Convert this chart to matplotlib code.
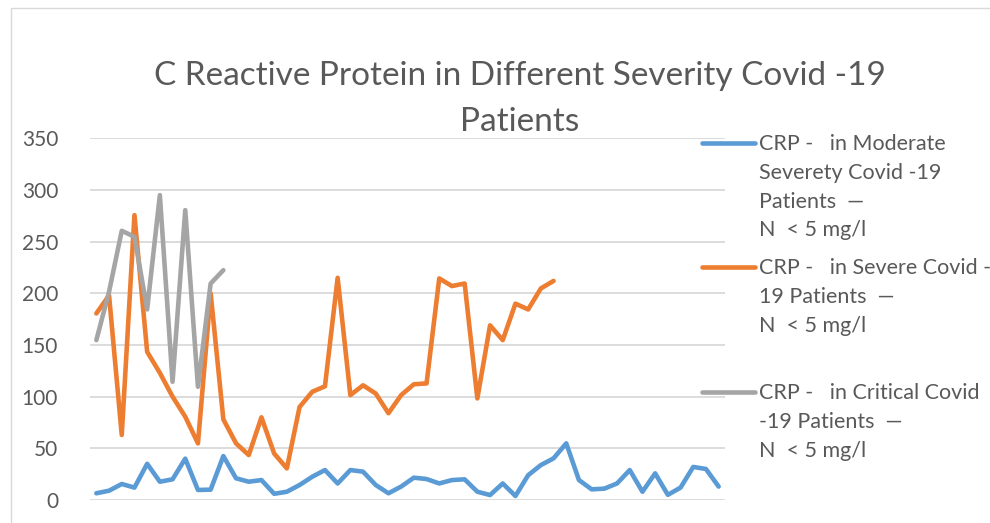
import numpy as np
import matplotlib
matplotlib.use("Agg")
import matplotlib.pyplot as plt
from matplotlib.lines import Line2D
from matplotlib.patches import Rectangle

plt.rcParams.update({
    "font.family": ["Lato", "DejaVu Sans"],
    "figure.facecolor": "white",
})

# values (mg/l), one list per severity group
crp_moderate = [6.5, 9, 15.5, 12, 35, 17.7, 20, 40, 9.7, 10,
                42.5, 21, 17.7, 19.3, 6, 8, 14.5, 22.5, 29, 16,
                29, 27.4, 14.5, 6.5, 13, 21.6, 20.3, 16, 19.3, 20,
                8, 4.8, 16, 3.9, 24, 33.8, 40.3, 54.8, 19.3, 10.3,
                11, 16, 29, 8, 25.8, 5, 12, 32, 30, 13]
crp_severe = [180.5, 198, 63, 275.6, 143.4, 123, 100, 80.6, 54.8, 200,
              78, 54.8, 43.5, 80, 45, 30.6, 90, 104.7, 110, 215,
              101.5, 111, 103, 84, 101.5, 112, 112.8, 214.4, 207, 209.5,
              98.3, 169, 154.7, 190, 184.4, 204.7, 212]
crp_critical = [154.7, 201.5, 260.5, 254.7, 184.4, 295, 114.4, 280.5, 109.6, 209.5,
                222.4]

series_labels = [
    "CRP -   in Moderate\nSeverety Covid -19\nPatients  \u2014\nN  < 5 mg/l",
    "CRP -   in Severe Covid -\n19 Patients  \u2014\nN  < 5 mg/l",
    "CRP -   in Critical Covid\n-19 Patients  \u2014\nN  < 5 mg/l",
]
series_colors = ["#5B9BD5", "#ED7D31", "#A5A5A5"]
y_ticks = [0, 50, 100, 150, 200, 250, 300, 350]
n_categories = 50

W, H = 990, 523
fig = plt.figure(figsize=(W / 100, H / 100), dpi=100)

# chart frame
fig.add_artist(Rectangle((11 / W, -0.2), 1.2, 1.2 - 8 / H, transform=fig.transFigure,
                         fill=False, edgecolor="#D9D9D9", linewidth=1.0))

ax = fig.add_axes([90 / W, (H - 500) / H, 635 / W, (500 - 138.3) / H])
ax.set_facecolor("none")

for vals, col in zip([crp_moderate, crp_severe, crp_critical], series_colors):
    ax.plot(np.arange(len(vals)), vals, color=col, linewidth=3.3,
            solid_capstyle="round", solid_joinstyle="round", zorder=3)

ax.set_xlim(-0.5, n_categories - 0.5)
ax.set_ylim(0, 350)
ax.set_yticks(y_ticks)
ax.set_yticklabels([str(t) for t in y_ticks], fontsize=15, color="#595959")
ax.set_xticks([])
ax.tick_params(axis="y", length=0, pad=23)
ax.grid(axis="y", color="#D9D9D9", linewidth=1.3)
for s in ax.spines.values():
    s.set_visible(False)

fig.text(520 / W, 1 - 99 / H, "C Reactive Protein in Different Severity Covid -19\nPatients",
         ha="center", va="center", fontsize=24, color="#595959", linespacing=1.7)

# manual legend, handle next to first line of each entry
legend_tops = [143, 267, 392]
for lab, col, yt in zip(series_labels, series_colors, legend_tops):
    fig.add_artist(Line2D([702 / W, 755 / W], [1 - yt / H] * 2, transform=fig.transFigure,
                          color=col, linewidth=3.3, solid_capstyle="round"))
    fig.text(759 / W, 1 - (yt - 9) / H, lab, ha="left", va="top",
             fontsize=15.5, color="#595959", linespacing=1.55)

fig.savefig("out.png", dpi=100)
